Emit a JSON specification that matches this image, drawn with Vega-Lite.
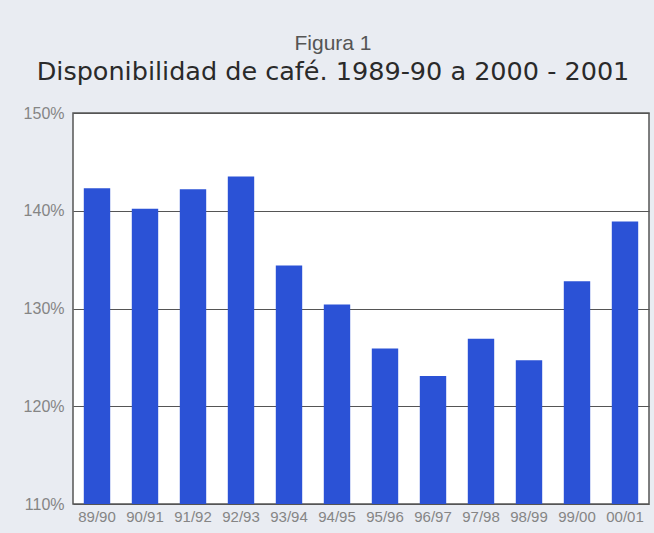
{
  "$schema": "https://vega.github.io/schema/vega-lite/v6.json",
  "width": 576,
  "height": 391,
  "autosize": {"type": "none"},
  "padding": {"left": 73, "top": 113, "right": 5, "bottom": 29},
  "background": "#e9ecf2",
  "title": {
    "text": "Figura 1",
    "subtitle": "Disponibilidad de café. 1989-90 a 2000 - 2001",
    "anchor": "middle",
    "frame": "group",
    "dx": -28,
    "font": "Liberation Sans",
    "fontSize": 21,
    "fontWeight": "normal",
    "color": "#555555",
    "subtitleFont": "DejaVu Sans",
    "subtitleFontSize": 25.5,
    "subtitleFontWeight": "normal",
    "subtitleColor": "#2a2a2a",
    "subtitlePadding": 6,
    "offset": 20
  },
  "data": {
    "values": [
      {"season": "89/90", "value": 142.3},
      {"season": "90/91", "value": 140.2},
      {"season": "91/92", "value": 142.2},
      {"season": "92/93", "value": 143.5},
      {"season": "93/94", "value": 134.4},
      {"season": "94/95", "value": 130.4},
      {"season": "95/96", "value": 125.9},
      {"season": "96/97", "value": 123.1},
      {"season": "97/98", "value": 126.9},
      {"season": "98/99", "value": 124.7},
      {"season": "99/00", "value": 132.8},
      {"season": "00/01", "value": 138.9}
    ]
  },
  "mark": {"type": "bar", "color": "#2b52d6"},
  "encoding": {
    "x": {
      "field": "season",
      "type": "nominal",
      "sort": null,
      "scale": {"paddingInner": 0.45, "paddingOuter": 0.225},
      "axis": {
        "title": null,
        "labelAngle": 0,
        "labelFont": "Liberation Sans",
        "labelFontSize": 15,
        "labelColor": "#858585",
        "labelPadding": 5,
        "ticks": false,
        "domain": false
      }
    },
    "y": {
      "field": "value",
      "type": "quantitative",
      "scale": {"domain": [110, 150], "zero": false, "nice": false},
      "axis": {
        "title": null,
        "values": [110, 120, 130, 140, 150],
        "labelExpr": "datum.value + '%'",
        "labelFont": "Liberation Sans",
        "labelFontSize": 16,
        "labelColor": "#858585",
        "labelPadding": 9,
        "ticks": false,
        "domain": false,
        "grid": true,
        "gridColor": "#555555",
        "gridWidth": 1
      }
    },
    "y2": {"datum": 110}
  },
  "config": {
    "view": {"fill": "#ffffff", "stroke": "#555555", "strokeWidth": 1.5}
  }
}
